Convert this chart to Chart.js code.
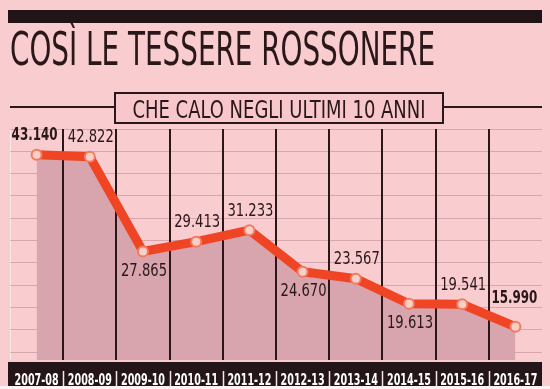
<!DOCTYPE html>
<html>
<head>
<meta charset="utf-8">
<script src="https://cdn.jsdelivr.net/npm/chart.js@4"></script>
<style>
  html, body { margin: 0; padding: 0; background: #f9cdd0; }
  #wrap { width: 550px; height: 389px; position: relative; }
</style>
</head>
<body>
<div id="wrap"><canvas id="chartOne" width="550" height="389"></canvas></div>
<script>
// dati: tessere Milan per stagione
const stagioni = ["2007-08", "2008-09", "2009-10", "2010-11", "2011-12",
                  "2012-13", "2013-14", "2014-15", "2015-16", "2016-17"];
const tessere = [43140, 42822, 27865, 29413, 31233, 24670, 23567, 19613, 19541, 15990];

// stile etichette (sopra/sotto il punto, grassetto)
const latoEtichetta = ["up", "up", "down", "up", "up", "down", "up", "down", "up", "up"];
const grassetto = [true, false, false, false, false, false, false, false, false, true];

const scuro = "#2a1719";
const rosso = "#ef4524";
const narrow = '"Liberation Sans Narrow", "DejaVu Sans Condensed", "Arial Narrow", sans-serif';

function formatta(v) {
    return Math.floor(v / 1000) + "." + String(v % 1000).padStart(3, "0");
}

const sfondo = {
    id: "sfondo",
    beforeDraw(chart) {
        const ctx = chart.ctx;
        const area = chart.chartArea;
        ctx.save();
        ctx.fillStyle = "#f9cdd0";
        ctx.fillRect(0, 0, chart.width, chart.height);

        // barra nera in alto
        ctx.fillStyle = "#221416";
        ctx.fillRect(8, 10, 534, 13);

        // titolo
        ctx.fillStyle = scuro;
        ctx.font = "46px " + narrow;
        ctx.textBaseline = "alphabetic";
        ctx.textAlign = "left";
        ctx.fillText("COSÌ LE TESSERE ROSSONERE", 10, 65, 425);

        // sottotitolo nel riquadro
        ctx.strokeStyle = scuro;
        ctx.lineWidth = 2;
        ctx.beginPath();
        ctx.moveTo(10, 107); ctx.lineTo(115, 107);
        ctx.moveTo(443, 107); ctx.lineTo(542, 107);
        ctx.stroke();
        ctx.fillStyle = "#f7c7cb";
        ctx.fillRect(115, 93, 328, 30);
        ctx.strokeRect(115, 93, 328, 30);
        ctx.fillStyle = scuro;
        ctx.font = "25px " + narrow;
        ctx.textAlign = "center";
        ctx.fillText("CHE CALO NEGLI ULTIMI 10 ANNI", 279, 118, 293);

        // banda scura per le stagioni
        ctx.fillStyle = "#241618";
        ctx.fillRect(8, area.bottom + 2, 534, chart.height - area.bottom - 2);
        const x = chart.scales.x;
        const passo = x.getPixelForValue(1) - x.getPixelForValue(0);
        ctx.strokeStyle = "#f4e6e6";
        ctx.lineWidth = 1.5;
        ctx.beginPath();
        for (let i = 0; i < stagioni.length - 1; i++) {
            const px = Math.round(x.getPixelForValue(i) + passo / 2) + 0.5;
            ctx.moveTo(px, area.bottom + 11);
            ctx.lineTo(px, chart.height - 2);
        }
        ctx.stroke();

        // etichette delle stagioni
        ctx.fillStyle = "#ffffff";
        ctx.font = "bold 15px " + narrow;
        ctx.textBaseline = "middle";
        stagioni.forEach((s, i) => {
            ctx.fillText(s, x.getPixelForValue(i), area.bottom + 21, 44);
        });

        // bordo sinistro chiaro
        ctx.strokeStyle = "rgba(255,255,255,0.6)";
        ctx.lineWidth = 1;
        ctx.beginPath();
        ctx.moveTo(area.left + 0.5, area.top);
        ctx.lineTo(area.left + 0.5, area.bottom);
        ctx.stroke();
        ctx.restore();
    },
    afterDraw(chart) {
        const ctx = chart.ctx;
        ctx.save();
        ctx.fillStyle = "#fbf3f3";
        ctx.fillRect(0, 386, chart.width, chart.height - 386);
        ctx.restore();
    }
};

// linee verticali scure tra le stagioni: sopra l'area, sotto la linea rossa
const separatori = {
    id: "separatori",
    beforeDatasetDraw(chart, args) {
        if (args.index !== 0) return;
        const ctx = chart.ctx;
        const area = chart.chartArea;
        const x = chart.scales.x;
        const passo = x.getPixelForValue(1) - x.getPixelForValue(0);
        ctx.save();
        ctx.strokeStyle = scuro;
        ctx.lineWidth = 2;
        ctx.beginPath();
        for (let i = 0; i < stagioni.length - 1; i++) {
            const px = Math.round(x.getPixelForValue(i) + passo / 2);
            ctx.moveTo(px, area.top);
            ctx.lineTo(px, area.bottom);
        }
        ctx.stroke();
        ctx.restore();
    }
};

const etichette = {
    id: "etichette",
    afterDatasetsDraw(chart) {
        const ctx = chart.ctx;
        const meta = chart.getDatasetMeta(0);
        ctx.save();
        ctx.fillStyle = scuro;
        ctx.textAlign = "center";
        ctx.textBaseline = "middle";
        meta.data.forEach((p, i) => {
            ctx.font = (grassetto[i] ? "bold " : "") + "18px " + narrow;
            let dy = latoEtichetta[i] === "up" ? -19 : 20;
            let dx = 1;
            if (i === tessere.length - 1) { dy = -28; dx = -1; }
            if (i === 0) dx = -2;
            ctx.fillText(formatta(tessere[i]), p.x + dx, p.y + dy, 46);
        });
        ctx.restore();
    }
};

const yMax = 47200;
const yPasso = 3520;
const yMin = 10740;

const ctx1 = document.getElementById("chartOne").getContext("2d");
const grafica = new Chart(ctx1, {
    type: "line",
    data: {
        labels: stagioni,
        datasets: [
            {
                label: "Tessere",
                data: tessere,
                borderColor: rosso,
                borderWidth: 9,
                fill: false,
                tension: 0,
                pointRadius: 5,
                pointBorderWidth: 2,
                pointBackgroundColor: "#f9cfc8",
                pointBorderColor: "#f27a5e",
            },
            {
                label: "area",
                data: tessere,
                borderWidth: 0,
                pointRadius: 0,
                fill: "start",
                backgroundColor: "#d8a4ad",
                tension: 0,
            },
        ],
    },
    options: {
        responsive: false,
        animation: false,
        layout: { padding: { left: 10, right: 8, top: 129, bottom: 21 } },
        plugins: {
            legend: { display: false },
            tooltip: { enabled: false },
        },
        scales: {
            x: {
                offset: true,
                grid: { display: false },
                border: { display: false },
                ticks: { display: false },
            },
            y: {
                min: yMin,
                max: yMax,
                afterBuildTicks(scale) {
                    const t = [];
                    for (let v = yMax; v > yMin; v -= yPasso) t.push({ value: v });
                    scale.ticks = t;
                },
                grid: { color: "rgba(150,100,110,0.35)", drawTicks: false, lineWidth: 1 },
                border: { display: false },
                ticks: { display: false },
            },
        },
    },
    plugins: [sfondo, separatori, etichette],
});
</script>
</body>
</html>
